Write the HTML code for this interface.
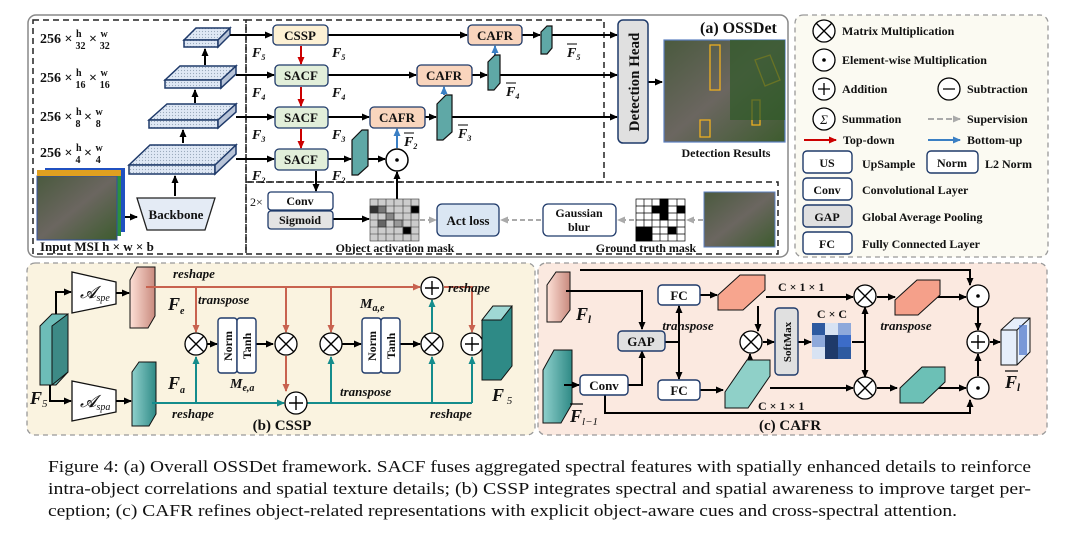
<!DOCTYPE html>
<html><head><meta charset="utf-8"><style>
html,body{margin:0;padding:0;background:#fff;}
svg{display:block;}
text{font-family:"Liberation Serif",serif;font-weight:bold;fill:#111;}
.n{font-weight:normal;}
.i{font-style:italic;}
</style></head><body>
<svg width="1080" height="547" viewBox="0 0 1080 547" xmlns="http://www.w3.org/2000/svg">
<defs>
<marker id="ak" markerWidth="8" markerHeight="8" refX="7" refY="4" orient="auto" markerUnits="userSpaceOnUse"><path d="M0,0.5 L8,4 L0,7.5z" fill="#000"/></marker>
<marker id="ar" markerWidth="8" markerHeight="8" refX="7" refY="4" orient="auto" markerUnits="userSpaceOnUse"><path d="M0,0.5 L8,4 L0,7.5z" fill="#c00"/></marker>
<marker id="ab" markerWidth="8" markerHeight="8" refX="7" refY="4" orient="auto" markerUnits="userSpaceOnUse"><path d="M0,0.5 L8,4 L0,7.5z" fill="#3a7fc4"/></marker>
<marker id="ao" markerWidth="8" markerHeight="8" refX="7" refY="4" orient="auto" markerUnits="userSpaceOnUse"><path d="M0,0.5 L8,4 L0,7.5z" fill="#c8624f"/></marker>
<marker id="at" markerWidth="8" markerHeight="8" refX="7" refY="4" orient="auto" markerUnits="userSpaceOnUse"><path d="M0,0.5 L8,4 L0,7.5z" fill="#148c8c"/></marker>
<marker id="ag" markerWidth="8" markerHeight="8" refX="7" refY="4" orient="auto" markerUnits="userSpaceOnUse"><path d="M0,0.5 L8,4 L0,7.5z" fill="#aaa"/></marker>
<pattern id="dots" width="3" height="3" patternUnits="userSpaceOnUse"><rect width="3" height="3" fill="#dfe8f5"/><circle cx="1.5" cy="1.5" r="0.6" fill="#9ab"/></pattern>
<linearGradient id="tg" x1="0" x2="1"><stop offset="0" stop-color="#8fd0cc"/><stop offset="1" stop-color="#2f8a86"/></linearGradient>
<linearGradient id="pg" x1="0" x2="1"><stop offset="0" stop-color="#fde0d6"/><stop offset="1" stop-color="#c98a7e"/></linearGradient>
<linearGradient id="img" x1="0" y1="0" x2="1" y2="1"><stop offset="0" stop-color="#4a5a3e"/><stop offset="0.5" stop-color="#6b6660"/><stop offset="1" stop-color="#3d5c2e"/></linearGradient>
</defs>

<rect x="28" y="15" width="760" height="242" rx="8" fill="#fff" stroke="#888" stroke-width="1.5"/>
<rect x="33" y="20" width="213" height="234" fill="none" stroke="#222" stroke-width="1.5" stroke-dasharray="6,4"/>
<rect x="246" y="20" width="358" height="162" fill="none" stroke="#222" stroke-width="1.5" stroke-dasharray="6,4"/>
<rect x="246" y="182" width="532" height="72" fill="none" stroke="#222" stroke-width="1.5" stroke-dasharray="6,4"/>
<rect x="795" y="15" width="253" height="242" rx="8" fill="#fbfaf2" stroke="#999" stroke-width="1.3" stroke-dasharray="5,4"/>

<g font-size="14">
<text x="40" y="43">256 × <tspan font-size="10" dy="-6">h</tspan><tspan font-size="10" dx="-6" dy="12">32</tspan><tspan dy="-6"> × </tspan><tspan font-size="10" dy="-6">w</tspan><tspan font-size="10" dx="-8" dy="12">32</tspan></text>
<text x="40" y="82">256 × <tspan font-size="10" dy="-6">h</tspan><tspan font-size="10" dx="-6" dy="12">16</tspan><tspan dy="-6"> × </tspan><tspan font-size="10" dy="-6">w</tspan><tspan font-size="10" dx="-8" dy="12">16</tspan></text>
<text x="40" y="121">256 × <tspan font-size="10" dy="-6">h</tspan><tspan font-size="10" dx="-6" dy="12">8</tspan><tspan dy="-6"> × </tspan><tspan font-size="10" dy="-6">w</tspan><tspan font-size="10" dx="-7" dy="12">8</tspan></text>
<text x="40" y="157">256 × <tspan font-size="10" dy="-6">h</tspan><tspan font-size="10" dx="-6" dy="12">4</tspan><tspan dy="-6"> × </tspan><tspan font-size="10" dy="-6">w</tspan><tspan font-size="10" dx="-7" dy="12">4</tspan></text>
</g>
<g stroke="#1f3a6a" stroke-width="1.5" fill="url(#dots)">
<path d="M184,40 L196,28 L230,28 L218,40z"/><rect x="184" y="40" width="34" height="7"/><path d="M218,40 L230,28 L230,35 L218,47z" fill="#b8c4d8"/>
<path d="M165,80 L180,66 L236,66 L221,80z"/><rect x="165" y="80" width="56" height="8"/><path d="M221,80 L236,66 L236,74 L221,88z" fill="#b8c4d8"/>
<path d="M149,120 L167,104 L236,104 L218,120z"/><rect x="149" y="120" width="69" height="8"/><path d="M218,120 L236,104 L236,112 L218,128z" fill="#b8c4d8"/>
<path d="M129,165 L150,145 L236,145 L215,165z"/><rect x="129" y="165" width="86" height="9"/><path d="M215,165 L236,145 L236,154 L215,174z" fill="#b8c4d8"/>
</g>
<g stroke="#000" stroke-width="2" fill="none" marker-end="url(#ak)">
<line x1="205" y1="65" x2="205" y2="49"/><line x1="195" y1="103" x2="195" y2="90"/><line x1="183" y1="143" x2="183" y2="130"/><line x1="175" y1="196" x2="175" y2="176"/>
<line x1="125" y1="217" x2="137" y2="217"/>
</g>
<rect x="45" y="168" width="80" height="64" fill="#2050c0"/>
<rect x="41" y="172" width="80" height="64" fill="#2a9040"/>
<rect x="37" y="176" width="80" height="64" fill="url(#img)" stroke="#3050a0"/>
<rect x="37" y="170" width="84" height="6" fill="#e0a020"/>
<text x="40" y="251" font-size="13">Input MSI  h × w × b</text>
<path d="M137,198 L215,198 L205,230 L147,230z" fill="#e4ebf5" stroke="#222" stroke-width="1.3"/>
<text x="176" y="219" font-size="13" text-anchor="middle">Backbone</text>

<g stroke="#000" stroke-width="2" fill="none" marker-end="url(#ak)">
<line x1="230" y1="35" x2="272" y2="35"/><line x1="236" y1="75" x2="274" y2="75"/><line x1="236" y1="117" x2="274" y2="117"/><line x1="236" y1="159" x2="274" y2="159"/>
<line x1="328" y1="35" x2="467" y2="35"/><line x1="328" y1="75" x2="416" y2="75"/><line x1="328" y1="117" x2="369" y2="117"/><line x1="328" y1="159" x2="351" y2="159"/>
<line x1="368" y1="159" x2="385" y2="159"/>
<line x1="425" y1="117" x2="436" y2="117"/><line x1="472" y1="75" x2="487" y2="75"/><line x1="522" y1="35" x2="540" y2="35"/>
<line x1="552" y1="35" x2="617" y2="35"/><line x1="500" y1="75" x2="617" y2="75"/><line x1="452" y1="117" x2="617" y2="117"/>
<line x1="648" y1="82" x2="662" y2="82"/>
<line x1="316" y1="171" x2="316" y2="191"/>
<line x1="397" y1="199" x2="397" y2="172"/>
<line x1="333" y1="219" x2="369" y2="219"/>
</g>
<g stroke="#c00" stroke-width="2" marker-end="url(#ar)">
<line x1="301" y1="46" x2="301" y2="64"/><line x1="301" y1="87" x2="301" y2="106"/><line x1="301" y1="129" x2="301" y2="148"/>
</g>
<g stroke="#3a7fc4" stroke-width="2" marker-end="url(#ab)">
<line x1="397" y1="148" x2="397" y2="129"/><line x1="444" y1="95" x2="444" y2="87"/><line x1="495" y1="56" x2="495" y2="46"/>
</g>
<g stroke="#1f3a6a" stroke-width="1.3" font-size="13">
<rect x="273" y="25" width="55" height="20" rx="4" fill="#fdf1d4"/>
<rect x="275" y="65" width="53" height="21" rx="4" fill="#e2efda"/>
<rect x="275" y="107" width="53" height="21" rx="4" fill="#e2efda"/>
<rect x="275" y="149" width="53" height="21" rx="4" fill="#e2efda"/>
<rect x="468" y="25" width="54" height="20" rx="4" fill="#f9d5bd"/>
<rect x="417" y="65" width="55" height="21" rx="4" fill="#f9d5bd"/>
<rect x="370" y="107" width="55" height="21" rx="4" fill="#f9d5bd"/>
</g>
<g font-size="13" text-anchor="middle">
<text x="300" y="40">CSSP</text><text x="301" y="80">SACF</text><text x="301" y="122">SACF</text><text x="301" y="164">SACF</text>
<text x="495" y="40">CAFR</text><text x="444" y="80">CAFR</text><text x="397" y="122">CAFR</text>
</g>
<g stroke="#111" stroke-width="1.2">
<path d="M541,32 L547,26 L552,26 L552,48 L547,54 L541,54z" fill="#5fa8a6"/>
<path d="M488,62 L495,55 L500,55 L500,83 L494,90 L488,90z" fill="#5fa8a6"/>
<path d="M437,104 L446,95 L452,95 L452,132 L443,140 L437,140z" fill="#5fa8a6"/>
<path d="M352,140 L362,130 L368,130 L368,166 L358,175 L352,175z" fill="#5fa8a6"/>
</g>
<circle cx="397" cy="160" r="11" fill="#fff" stroke="#000" stroke-width="1.5"/><circle cx="397" cy="160" r="1.8" fill="#000"/>
<g font-size="14" class="i">
<text x="252" y="57" class="i">F<tspan font-size="8" dy="3">5</tspan></text>
<text x="332" y="57" class="i">F<tspan font-size="8" dy="3">5</tspan></text>
<text x="252" y="97" class="i">F<tspan font-size="8" dy="3">4</tspan></text>
<text x="332" y="97" class="i">F<tspan font-size="8" dy="3">4</tspan></text>
<text x="252" y="139" class="i">F<tspan font-size="8" dy="3">3</tspan></text>
<text x="332" y="139" class="i">F<tspan font-size="8" dy="3">3</tspan></text>
<text x="252" y="180" class="i">F<tspan font-size="8" dy="3">2</tspan></text>
<text x="332" y="180" class="i">F<tspan font-size="8" dy="3">2</tspan></text>
<text x="404" y="146" class="i">F<tspan font-size="8" dy="3">2</tspan></text>
<text x="458" y="138" class="i">F<tspan font-size="8" dy="3">3</tspan></text>
<text x="506" y="96" class="i">F<tspan font-size="8" dy="3">4</tspan></text>
<text x="567" y="57" class="i">F<tspan font-size="8" dy="3">5</tspan></text>
</g>
<g stroke="#000" stroke-width="1"><line x1="404" y1="133" x2="414" y2="133"/><line x1="458" y1="125" x2="468" y2="125"/><line x1="506" y1="83" x2="516" y2="83"/><line x1="567" y1="44" x2="577" y2="44"/></g>
<rect x="618" y="20" width="30" height="123" rx="5" fill="#e0e0e0" stroke="#1f3a6a" stroke-width="1.5"/>
<text transform="translate(639,82) rotate(-90)" font-size="15" text-anchor="middle">Detection Head</text>
<text x="700" y="33" font-size="16">(a) OSSDet</text>
<rect x="664" y="40" width="121" height="102" fill="url(#img)" stroke="#5b7fc0" stroke-width="1.2"/>
<path d="M710,45 L720,45 L720,90 L710,90z M700,120 L710,120 L710,137 L700,137z M755,60 L770,55 L780,80 L765,86z M752,100 L760,100 L760,125 L752,125z" fill="none" stroke="#f0b020" stroke-width="1.3"/>
<rect x="730" y="40" width="55" height="80" fill="#2f5a28" opacity="0.7"/>
<text x="726" y="157" font-size="12" text-anchor="middle">Detection Results</text>

<text x="250" y="206" font-size="12" class="n">2×</text>
<rect x="268" y="192" width="65" height="18" rx="3" fill="#fff" stroke="#1f3a6a" stroke-width="1.3"/>
<rect x="268" y="211" width="65" height="18" rx="3" fill="#e4e4e4" stroke="#1f3a6a" stroke-width="1.3"/>
<text x="300" y="205" font-size="12" text-anchor="middle">Conv</text><text x="300" y="224" font-size="12" text-anchor="middle">Sigmoid</text>
<g stroke="#333" stroke-width="0.6">
<rect x="370" y="199" width="49" height="42" fill="#ccc"/>
<rect x="370" y="206" width="8" height="7" fill="#333"/><rect x="378" y="206" width="8" height="7" fill="#777"/><rect x="411" y="206" width="8" height="7" fill="#000"/>
<rect x="403" y="227" width="8" height="7" fill="#000"/><rect x="386" y="213" width="8" height="7" fill="#888"/><rect x="394" y="220" width="8" height="7" fill="#999"/><rect x="378" y="220" width="8" height="7" fill="#666"/>
<path d="M378,199v42M386,199v42M394,199v42M403,199v42M411,199v42M370,206h49M370,213h49M370,220h49M370,227h49M370,234h49" fill="none"/>
</g>
<g stroke="#aaa" stroke-width="2" stroke-dasharray="5,3" marker-end="url(#ag)">
<line x1="420" y1="220" x2="436" y2="220"/><line x1="541" y1="220" x2="501" y2="220"/><line x1="634" y1="220" x2="618" y2="220"/><line x1="703" y1="220" x2="687" y2="220"/>
</g>
<rect x="437" y="204" width="62" height="32" rx="5" fill="#dae6f3" stroke="#1f3a6a" stroke-width="1.3"/>
<text x="468" y="225" font-size="13" text-anchor="middle">Act loss</text>
<rect x="543" y="204" width="73" height="32" rx="5" fill="#fff" stroke="#1f3a6a" stroke-width="1.3"/>
<text x="579" y="217" font-size="12" text-anchor="middle">Gaussian</text><text x="579" y="231" font-size="12" text-anchor="middle">blur</text>
<g stroke="#000" stroke-width="0.7">
<rect x="636" y="199" width="49" height="42" fill="#fff"/>
<rect x="660" y="199" width="8" height="7" fill="#000"/><rect x="652" y="206" width="16" height="7" fill="#000"/><rect x="677" y="206" width="8" height="7" fill="#000"/><rect x="660" y="213" width="8" height="7" fill="#000"/>
<rect x="636" y="227" width="16" height="14" fill="#000"/><rect x="668" y="227" width="8" height="7" fill="#000"/>
<path d="M644,199v42M652,199v42M660,199v42M668,199v42M677,199v42M636,206h49M636,213h49M636,220h49M636,227h49M636,234h49" fill="none"/>
</g>
<rect x="704" y="192" width="71" height="55" fill="url(#img)" stroke="#5b7fc0"/>
<text x="395" y="252" font-size="12" text-anchor="middle">Object activation mask</text>
<text x="646" y="252" font-size="12" text-anchor="middle">Ground truth mask</text>

<g stroke="#000" stroke-width="1.3" fill="#fff">
<circle cx="824" cy="31" r="11"/><circle cx="824" cy="60" r="11"/><circle cx="824" cy="89" r="11"/><circle cx="949" cy="89" r="11"/><circle cx="824" cy="119" r="11"/>
</g>
<path d="M816,23 L832,39 M832,23 L816,39 M818,89h12M824,83v12M943,89h12" stroke="#000" stroke-width="1.3"/>
<circle cx="824" cy="60" r="1.8"/>
<text x="824" y="124" font-size="13" class="n i" text-anchor="middle">Σ</text>
<g font-size="12">
<text x="842" y="35">Matrix Multiplication</text><text x="842" y="64">Element-wise Multiplication</text>
<text x="842" y="93">Addition</text><text x="967" y="93">Subtraction</text>
<text x="842" y="123">Summation</text><text x="967" y="123">Supervision</text>
<text x="843" y="144">Top-down</text><text x="967" y="144">Bottom-up</text>
<text x="862" y="168">UpSample</text><text x="985" y="168">L2 Norm</text>
<text x="862" y="194">Convolutional Layer</text><text x="862" y="221">Global Average Pooling</text><text x="862" y="248">Fully Connected Layer</text>
</g>
<line x1="928" y1="119" x2="960" y2="119" stroke="#aaa" stroke-width="2" stroke-dasharray="6,3" marker-end="url(#ag)"/>
<line x1="804" y1="140" x2="836" y2="140" stroke="#c00" stroke-width="2" marker-end="url(#ar)"/>
<line x1="928" y1="140" x2="960" y2="140" stroke="#3a7fc4" stroke-width="2" marker-end="url(#ab)"/>
<g stroke="#1f3a6a" stroke-width="1.4" fill="#fff">
<rect x="803" y="151" width="49" height="22" rx="4"/><rect x="927" y="151" width="51" height="22" rx="4"/>
<rect x="803" y="178" width="49" height="22" rx="4"/><rect x="803" y="205" width="49" height="22" rx="4" fill="#e0e0e0"/><rect x="803" y="232" width="49" height="22" rx="4"/>
</g>
<g font-size="12" text-anchor="middle"><text x="827" y="167">US</text><text x="952" y="167">Norm</text><text x="827" y="194">Conv</text><text x="827" y="221">GAP</text><text x="827" y="248">FC</text></g>

<rect x="27" y="263" width="508" height="172" rx="8" fill="#faf3e0" stroke="#999" stroke-width="1.3" stroke-dasharray="5,4"/>
<path d="M40,326 L52,314 L68,314 L68,372 L56,385 L40,385z" fill="#6dbdb8" stroke="#111"/><path d="M52,326 L68,314 L68,372 L52,385z" fill="#3d8a86" stroke="#111"/>
<path d="M72,272 L116,282 L116,304 L72,313z" fill="#fff" stroke="#111" stroke-width="1.3"/>
<path d="M72,381 L116,390 L116,412 L72,421z" fill="#fff" stroke="#111" stroke-width="1.3"/>
<text x="80" y="298" font-size="17" class="i n">𝓐<tspan font-size="10" dy="3">spe</tspan></text>
<text x="80" y="407" font-size="17" class="i n">𝓐<tspan font-size="10" dy="3">spa</tspan></text>
<g stroke="#000" stroke-width="2" fill="none" marker-end="url(#ak)">
<path d="M56,314 V292 H71"/><path d="M50,385 V401 H71"/><line x1="116" y1="293" x2="129" y2="293"/><line x1="116" y1="401" x2="131" y2="401"/>
<line x1="206" y1="344" x2="217" y2="344"/><line x1="256" y1="344" x2="273" y2="344"/><line x1="342" y1="344" x2="361" y2="344"/><line x1="400" y1="344" x2="420" y2="344"/><line x1="484" y1="344" x2="494" y2="344"/>
</g>
<path d="M130,280 L137,267 L155,267 L155,316 L148,328 L130,328z" fill="url(#pg)" stroke="#111"/>
<path d="M132,372 L139,362 L156,362 L156,414 L149,426 L132,426z" fill="url(#tg)" stroke="#111"/>
<g stroke="#c8624f" stroke-width="2" fill="none">
<line x1="146" y1="287" x2="420" y2="287" marker-end="url(#ao)"/>
<line x1="196" y1="287" x2="196" y2="332" marker-end="url(#ao)"/>
<line x1="286" y1="287" x2="286" y2="332" marker-end="url(#ao)"/>
<line x1="331" y1="287" x2="331" y2="332" marker-end="url(#ao)"/>
<path d="M444,287 H472 V332" marker-end="url(#ao)"/>
<line x1="286" y1="356" x2="286" y2="391" marker-end="url(#ao)"/>
</g>
<g stroke="#148c8c" stroke-width="2" fill="none">
<line x1="152" y1="403" x2="284" y2="403" marker-end="url(#at)"/>
<line x1="196" y1="403" x2="196" y2="357" marker-end="url(#at)"/>
<line x1="297" y1="403" x2="472" y2="403"/>
<line x1="331" y1="403" x2="331" y2="357" marker-end="url(#at)"/>
<line x1="432" y1="403" x2="432" y2="357" marker-end="url(#at)"/>
<line x1="472" y1="403" x2="472" y2="357" marker-end="url(#at)"/>
<line x1="432" y1="332" x2="432" y2="300" marker-end="url(#at)"/>
</g>
<g stroke="#000" stroke-width="1.3" fill="#fff">
<circle cx="196" cy="344" r="11"/><circle cx="286" cy="344" r="11"/><circle cx="331" cy="344" r="11"/><circle cx="432" cy="344" r="11"/>
<circle cx="432" cy="288" r="11"/><circle cx="472" cy="344" r="11"/><circle cx="296" cy="403" r="11"/>
</g>
<path d="M188,336l16,16M204,336l-16,16M278,336l16,16M294,336l-16,16M323,336l16,16M339,336l-16,16M424,336l16,16M440,336l-16,16M425,288h14M432,281v14M465,344h14M472,337v14M289,403h14M296,396v14" stroke="#000" stroke-width="1.4"/>
<g stroke="#1f3a6a" stroke-width="1.4" fill="#fff">
<rect x="218" y="318" width="19" height="55" rx="3"/><rect x="237" y="318" width="19" height="55" rx="3"/>
<rect x="362" y="318" width="19" height="55" rx="3"/><rect x="381" y="318" width="19" height="55" rx="3"/>
</g>
<g font-size="12" text-anchor="middle">
<text transform="translate(232,346) rotate(-90)">Norm</text><text transform="translate(251,346) rotate(-90)">Tanh</text>
<text transform="translate(376,346) rotate(-90)">Norm</text><text transform="translate(395,346) rotate(-90)">Tanh</text>
</g>
<path d="M482,320 L493,306 L512,306 L512,366 L501,380 L482,380z" fill="#2e8a86" stroke="#111"/>
<path d="M482,320 L493,306 L512,306 L501,320z" fill="#9fd8d4" stroke="#111"/>
<g font-size="13" class="i">
<text x="173" y="278">reshape</text><text x="198" y="304">transpose</text><text x="448" y="292">reshape</text>
<text x="172" y="418">reshape</text><text x="340" y="396">transpose</text><text x="430" y="418">reshape</text>
</g>
<text x="168" y="310" font-size="18" class="i">F<tspan font-size="10" dy="4">e</tspan></text>
<text x="168" y="389" font-size="18" class="i">F<tspan font-size="10" dy="4">a</tspan></text>
<text x="30" y="404" font-size="18" class="i">F<tspan font-size="11" dy="3" class="n">5</tspan></text>
<text x="492" y="401" font-size="18" class="i">F<tspan font-size="11" dy="3" class="n"> 5</tspan></text>
<text x="230" y="388" font-size="14" class="i">M<tspan font-size="10" dy="3">e,a</tspan></text>
<text x="360" y="308" font-size="14" class="i">M<tspan font-size="10" dy="3">a,e</tspan></text>
<text x="282" y="430" font-size="15" text-anchor="middle">(b) CSSP</text>

<rect x="538" y="263" width="509" height="172" rx="8" fill="#fbe9e0" stroke="#999" stroke-width="1.3" stroke-dasharray="5,4"/>
<path d="M547,285 L556,272 L570,272 L570,310 L561,322 L547,322z" fill="url(#pg)" stroke="#111"/>
<path d="M543,370 L554,350 L572,350 L572,404 L561,423 L543,423z" fill="url(#tg)" stroke="#111"/>
<g stroke="#000" stroke-width="2" fill="none">
<path d="M580,270 H970 V285" marker-end="url(#ak)"/>
<path d="M566,291 H642 V329" marker-end="url(#ak)"/>
<line x1="564" y1="385" x2="579" y2="385" marker-end="url(#ak)"/>
<path d="M628,385 H642 V351" marker-end="url(#ak)"/>
<path d="M665,342 H679"/><line x1="679" y1="342" x2="679" y2="306" marker-end="url(#ak)"/><line x1="679" y1="342" x2="679" y2="379" marker-end="url(#ak)"/>
<line x1="700" y1="295" x2="717" y2="295" marker-end="url(#ak)"/>
<line x1="700" y1="390" x2="723" y2="390" marker-end="url(#ak)"/>
<line x1="758" y1="306" x2="758" y2="331" marker-end="url(#ak)"/>
<line x1="750" y1="375" x2="750" y2="354" marker-end="url(#ak)"/>
<line x1="763" y1="342" x2="774" y2="342" marker-end="url(#ak)"/>
<line x1="798" y1="342" x2="811" y2="342" marker-end="url(#ak)"/>
<path d="M852,342 H865"/><line x1="865" y1="342" x2="865" y2="307" marker-end="url(#ak)"/><line x1="865" y1="342" x2="865" y2="377" marker-end="url(#ak)"/>
<line x1="766" y1="297" x2="853" y2="297" marker-end="url(#ak)"/>
<line x1="770" y1="388" x2="853" y2="388" marker-end="url(#ak)"/>
<line x1="877" y1="297" x2="895" y2="297" marker-end="url(#ak)"/>
<line x1="877" y1="388" x2="897" y2="388" marker-end="url(#ak)"/>
<line x1="930" y1="297" x2="966" y2="297" marker-end="url(#ak)"/>
<line x1="932" y1="388" x2="966" y2="388" marker-end="url(#ak)"/>
<path d="M605,395 V413 H970 V400" marker-end="url(#ak)"/>
<line x1="978" y1="307" x2="978" y2="330" marker-end="url(#ak)"/>
<line x1="978" y1="376" x2="978" y2="354" marker-end="url(#ak)"/>
<line x1="990" y1="342" x2="1000" y2="342" marker-end="url(#ak)"/>
</g>
<g stroke="#1f3a6a" stroke-width="1.4">
<rect x="618" y="331" width="47" height="20" rx="4" fill="#e0e0e0"/>
<rect x="580" y="375" width="48" height="20" rx="4" fill="#fff"/>
<rect x="658" y="285" width="42" height="20" rx="4" fill="#fff"/>
<rect x="658" y="380" width="42" height="20" rx="4" fill="#fff"/>
<rect x="775" y="308" width="23" height="67" rx="4" fill="#e0e0e0"/>
</g>
<g font-size="13" text-anchor="middle"><text x="641" y="346">GAP</text><text x="604" y="390">Conv</text><text x="679" y="300">FC</text><text x="679" y="395">FC</text></g>
<text transform="translate(791,342) rotate(-90)" font-size="11" text-anchor="middle">SoftMax</text>
<path d="M718,295 L740,275 L765,275 L765,290 L743,310 L718,310z" fill="#f7a58e" stroke="#111"/>
<path d="M725,392 L747,360 L770,360 L770,376 L748,408 L725,408z" fill="#8fd0c8" stroke="#111"/>
<path d="M895,300 L917,280 L940,280 L940,295 L918,315 L895,315z" fill="#f5a08a" stroke="#111"/>
<path d="M900,388 L922,367 L945,367 L945,382 L923,403 L900,403z" fill="#6cc0b6" stroke="#111"/>
<g>
<rect x="812" y="323" width="13" height="12" fill="#2e5aa0"/><rect x="825" y="323" width="13" height="12" fill="#d8e3f3"/><rect x="838" y="323" width="13" height="12" fill="#8ea9db"/>
<rect x="812" y="335" width="13" height="12" fill="#8ea9db"/><rect x="825" y="335" width="13" height="12" fill="#1f3a6a"/><rect x="838" y="335" width="13" height="12" fill="#3c6cc8"/>
<rect x="812" y="347" width="13" height="12" fill="#d8e3f3"/><rect x="825" y="347" width="13" height="12" fill="#1f3a6a"/><rect x="838" y="347" width="13" height="12" fill="#2e5aa0"/>
</g>
<text x="832" y="318" font-size="12" text-anchor="middle">C × C</text>
<text x="778" y="291" font-size="12">C × 1 × 1</text>
<text x="758" y="410" font-size="12">C × 1 × 1</text>
<text x="688" y="330" font-size="13" class="i" text-anchor="middle">transpose</text>
<text x="906" y="330" font-size="13" class="i" text-anchor="middle">transpose</text>
<g stroke="#000" stroke-width="1.3" fill="#fff">
<circle cx="751" cy="342" r="11"/><circle cx="865" cy="296" r="11"/><circle cx="865" cy="388" r="11"/>
<circle cx="978" cy="296" r="11"/><circle cx="978" cy="342" r="11"/><circle cx="978" cy="388" r="11"/>
</g>
<path d="M743,334l16,16M759,334l-16,16M857,288l16,16M873,288l-16,16M857,380l16,16M873,380l-16,16M971,342h14M978,335v14" stroke="#000" stroke-width="1.4"/>
<circle cx="978" cy="296" r="1.8"/><circle cx="978" cy="388" r="1.8"/>
<path d="M1001,330 L1014,318 L1030,318 L1030,352 L1017,365 L1001,365z" fill="#e6eefa" stroke="#111"/>
<path d="M1001,330 H1017 V365 M1017,330 L1030,318" fill="none" stroke="#111"/>
<rect x="1019" y="325" width="8" height="30" fill="#4a74c8" opacity="0.7"/>
<text x="576" y="320" font-size="18" class="i">F<tspan font-size="11" dy="3">l</tspan></text>
<text x="570" y="422" font-size="18" class="i">F<tspan font-size="11" dy="3" class="n">l−1</tspan></text>
<line x1="570" y1="404" x2="583" y2="404" stroke="#000" stroke-width="1.2"/>
<text x="1005" y="388" font-size="18" class="i">F<tspan font-size="11" dy="3">l</tspan></text>
<line x1="1005" y1="371" x2="1018" y2="371" stroke="#000" stroke-width="1.2"/>
<text x="790" y="430" font-size="15" text-anchor="middle">(c) CAFR</text>

<g font-size="16.5">
<text x="48" y="472" class="n" textLength="983" lengthAdjust="spacingAndGlyphs">Figure 4: (a) Overall OSSDet framework. SACF fuses aggregated spectral features with spatially enhanced details to reinforce</text>
<text x="48" y="494" class="n" textLength="983" lengthAdjust="spacingAndGlyphs">intra-object correlations and spatial texture details; (b) CSSP integrates spectral and spatial awareness to improve target per-</text>
<text x="48" y="516" class="n" textLength="909" lengthAdjust="spacingAndGlyphs">ception; (c) CAFR refines object-related representations with explicit object-aware cues and cross-spectral attention.</text>
</g>
</svg>
</body></html>
